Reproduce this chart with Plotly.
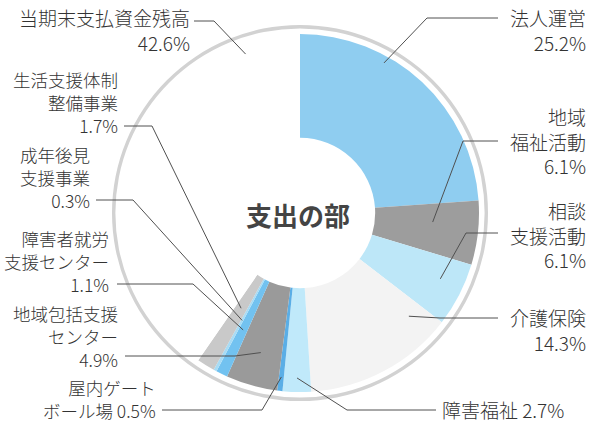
import math
import plotly.graph_objects as go

# ---- data ----
categories = ["法人運営", "地域福祉活動", "相談支援活動", "介護保険", "障害福祉",
              "屋内ゲートボール場", "地域包括支援センター", "障害者就労支援センター",
              "成年後見支援事業", "生活支援体制整備事業", "当期末支払資金残高"]
values = [25.2, 6.1, 6.1, 14.3, 2.7, 0.5, 4.9, 1.1, 0.3, 1.7, 42.6]
label_texts = ["法人運営<br>25.2%", "地域<br>福祉活動<br>6.1%", "相談<br>支援活動<br>6.1%",
               "介護保険<br>14.3%", "障害福祉 2.7%", "屋内ゲート<br>ボール場 0.5%",
               "地域包括支援<br>センター<br>4.9%", "障害者就労<br>支援センター<br>1.1%",
               "成年後見<br>支援事業<br>0.3%", "生活支援体制<br>整備事業<br>1.7%",
               "当期末支払資金残高<br>42.6%"]
center_title = "支出の部"

# ---- styles / layout ----
colors = ["#8fcdf0", "#9d9d9d", "#bde7f8", "#f3f3f3", "#c0e9fa", "#5aaee6",
          "#9a9a9a", "#72c2f0", "#a8dcf5", "#c9c9c9", "#ffffff"]
W, H = 596, 423
CX, CY, R = 300, 213, 179
RING_R = 188
FONT = "Noto Sans CJK JP"

# per label: (x edge, side, centre y of text block, font size, line start (x,y),
#             elbow x, position within slice 0..1, anchor radius)
label_layout = [
    (587, "right", 30, 19, (498, 18), 427, 0.34, 172),
    (587, "right", 141, 19, (498, 141), 463, 0.38, 133),
    (587, "right", 235, 19, (498, 233), 466, 0.40, 155),
    (587, "right", 330, 19, (498, 318), 440, 0.12, 150),
    (441, "left", 409, 19, (436, 410), 347, 0.50, 165),
    (157, "right", 399, 17.5, (162, 410), 262, 0.50, 165),
    (119, "right", 336, 17.5, (125, 356), 235, 0.50, 145),
    (110, "right", 261, 17.5, (117, 284), 193, 0.50, 130),
    (91, "right", 178, 17.5, (96, 200), 133, 0.50, 122),
    (119, "right", 102, 17.5, (124, 126), 152, 0.50, 112),
    (191, "right", 30, 19, (194, 21), 214, 0.87, 168),
]


def px(x, y):
    return x / W, 1 - y / H


fig = go.Figure()

# outer ring
rx0, ry1 = px(CX - RING_R, CY - RING_R)
rx1, ry0 = px(CX + RING_R, CY + RING_R)
fig.add_trace(go.Pie(values=[1], labels=["ring"], hole=0.982, sort=False,
                     marker=dict(colors=["#d2d2d2"], line=dict(width=0)),
                     textinfo="none", hoverinfo="skip", showlegend=False,
                     domain=dict(x=[rx0, rx1], y=[ry0, ry1])))

# main donut
dx0, dy1 = px(CX - R, CY - R)
dx1, dy0 = px(CX + R, CY + R)
fig.add_trace(go.Pie(values=values, labels=categories, hole=0.42, sort=False,
                     direction="clockwise", rotation=0,
                     marker=dict(colors=colors, line=dict(width=0)),
                     textinfo="none", showlegend=False,
                     domain=dict(x=[dx0, dx1], y=[dy0, dy1])))

total = sum(values)
cum = 0
shapes = []
annotations = []
for v, txt, lay in zip(values, label_texts, label_layout):
    start = cum
    cum += v
    lx, side, cy_text, fs, (sx, sy), ex, frac, ar = lay
    theta = 2 * math.pi * (start + frac * v) / total
    ax = CX + ar * math.sin(theta)
    ay = CY - ar * math.cos(theta)
    p0, p1, p2 = px(sx, sy), px(ex, sy), px(ax, ay)
    shapes.append(dict(type="path", xref="paper", yref="paper",
                       path=f"M {p0[0]},{p0[1]} L {p1[0]},{p1[1]} L {p2[0]},{p2[1]}",
                       line=dict(color="#505050", width=1)))
    tx, ty = px(lx, cy_text)
    annotations.append(dict(x=tx, y=ty, xref="paper", yref="paper", text=txt,
                            xanchor=side, yanchor="middle", align=side,
                            showarrow=False, borderpad=0,
                            font=dict(family=FONT, size=fs, color="#333333",
                                      weight=300)))

cxp, cyp = px(CX - 2, CY + 2)
annotations.append(dict(x=cxp, y=cyp, xref="paper", yref="paper",
                        text=f"<b>{center_title}</b>", showarrow=False,
                        xanchor="center", yanchor="middle",
                        font=dict(family=FONT, size=26, color="#444444")))

fig.update_layout(width=W, height=H, margin=dict(l=0, r=0, t=0, b=0),
                  paper_bgcolor="white", plot_bgcolor="white",
                  shapes=shapes, annotations=annotations)
fig.write_html("out.html", config={"displayModeBar": False},
               post_script="document.body.style.margin='0px';")
